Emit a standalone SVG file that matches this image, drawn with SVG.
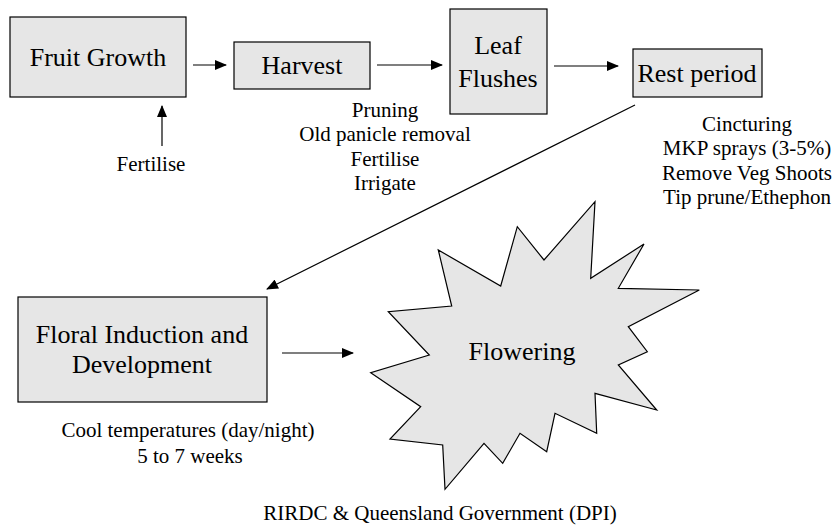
<svg xmlns="http://www.w3.org/2000/svg" width="837" height="527" viewBox="0 0 837 527">
<defs>
<marker id="ah" markerWidth="12" markerHeight="10" refX="11" refY="5" orient="auto" markerUnits="userSpaceOnUse">
<path d="M0,0 L12,5 L0,10 Z" fill="#000"/>
</marker>
</defs>
<rect width="837" height="527" fill="#fff"/>
<g id="fruit-growth">
<rect x="10" y="17" width="176" height="80" fill="#e6e6e6" stroke="#000" stroke-width="1.2"/>
<text x="98" y="66" text-anchor="middle" font-size="26" font-family="serif">Fruit Growth</text>
</g>
<g id="harvest">
<rect x="234" y="42" width="136" height="47" fill="#e6e6e6" stroke="#000" stroke-width="1.2"/>
<text x="261.6" y="74" font-size="26" font-family="Liberation Serif">Harvest</text>
</g>
<g id="leaf-flushes">
<rect x="450" y="9" width="97" height="105" fill="#e6e6e6" stroke="#000" stroke-width="1.2"/>
<text x="498" y="54" text-anchor="middle" font-size="26" font-family="Times New Roman">Leaf</text>
<text x="498" y="87" text-anchor="middle" font-size="26" font-family="Tinos">Flushes</text>
</g>
<g id="rest-period">
<rect x="633" y="49" width="129" height="48" fill="#e6e6e6" stroke="#000" stroke-width="1.2"/>
<text x="697" y="82" text-anchor="middle" font-size="26" style="font-family:'Liberation Serif'">Rest period</text>
</g>
<g id="floral-induction">
<rect x="18" y="297" width="249" height="105" fill="#e6e6e6" stroke="#000" stroke-width="1.2"/>
<text x="142" y="343" font-size="26" style="font-family:'Liberation Serif';text-anchor:middle">Floral Induction and</text>
<text x="142" y="373" font-size="26" style="font-family:'Liberation Serif';text-anchor:middle">Development</text>
</g>
<g id="flowering">
<polygon points="438.3,250 451.7,306 388.3,311.7 429.3,355 370.7,372.7 420.7,406.7 390,439 442.7,445 445,489.3 484,443.3 502.7,463.3 520,433.3 546.7,451.7 555,413.3 596.7,433.3 595,393.3 656.7,410 618.3,365 647.3,351.7 628.3,326.7 699.3,290 618.3,288.3 644,244 590.7,278.3 595,201.7 544,260 517.3,226.7 500.7,286" fill="#e6e6e6" stroke="#000" stroke-width="1.2"/>
<text x="522" y="360" text-anchor="middle" font-size="26" font-family="Liberation Serif, serif">Flowering</text>
</g>
<g id="labels">
<text x="151" y="171" text-anchor="middle" font-size="21" font-family="serif">Fertilise</text>
<text x="385" y="117" text-anchor="middle" font-size="21" font-family="serif">Pruning</text>
<text x="385" y="141" text-anchor="middle" font-size="21" font-family="serif">Old panicle removal</text>
<text x="385" y="166" text-anchor="middle" font-size="21" font-family="serif">Fertilise</text>
<text x="385" y="190" text-anchor="middle" font-size="21" font-family="serif">Irrigate</text>
<text x="747" y="131" text-anchor="middle" font-size="21" font-family="Times New Roman">Cincturing</text>
<text x="747" y="155" text-anchor="middle" font-size="21" font-family="Times New Roman">MKP sprays (3-5%)</text>
<text x="747" y="180" text-anchor="middle" font-size="21" font-family="Times New Roman">Remove Veg Shoots</text>
<text x="747" y="204" text-anchor="middle" font-size="21" font-family="Times New Roman">Tip prune/Ethephon</text>
<text x="188" y="437" text-anchor="middle" font-size="21" font-family="Liberation Serif">Cool temperatures (day/night)</text>
<text x="190" y="463" text-anchor="middle" font-size="21" font-family="Liberation Serif">5 to 7 weeks</text>
<text x="440" y="520" text-anchor="middle" font-size="21" font-family="Liberation Serif">RIRDC &amp; Queensland Government (DPI)</text>
</g>
<g id="connectors" stroke="#000" stroke-width="1.2" fill="none">
<line x1="193" y1="65" x2="226" y2="65" marker-end="url(#ah)"/>
<line x1="377" y1="65" x2="442" y2="65" marker-end="url(#ah)"/>
<line x1="554" y1="66" x2="618" y2="66" marker-end="url(#ah)"/>
<line x1="162" y1="146" x2="162" y2="106" marker-end="url(#ah)"/>
<line x1="635" y1="105" x2="267" y2="289" marker-end="url(#ah)"/>
<line x1="282" y1="353" x2="353" y2="353" marker-end="url(#ah)"/>
</g>
</svg>
